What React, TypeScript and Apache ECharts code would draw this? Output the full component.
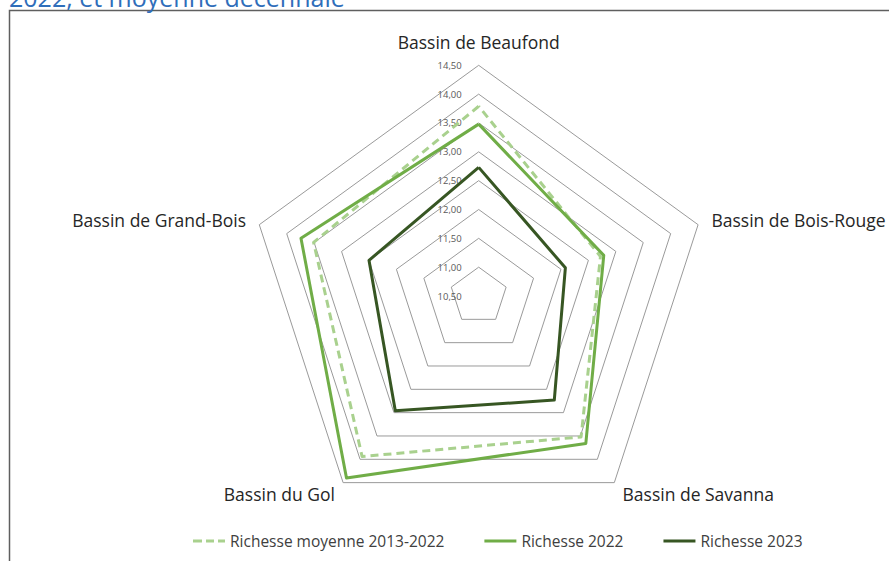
import React, { useEffect, useRef } from "react";
import * as echarts from "echarts";

// Indicators in counter-clockwise order starting at top
const basins = [
  "Bassin de Beaufond",
  "Bassin de Grand-Bois",
  "Bassin du Gol",
  "Bassin de Savanna",
  "Bassin de Bois-Rouge",
];
const seriesNames = ["Richesse moyenne 2013-2022", "Richesse 2022", "Richesse 2023"];
const moyenne = [13.79, 13.51, 13.94, 13.52, 12.72];
const rich2022 = [13.48, 13.74, 14.4, 13.66, 12.78];
const rich2023 = [12.73, 12.5, 12.96, 12.73, 12.08];
const scaleMin = 10.5;
const scaleMax = 14.5;
const titleText = "2022, et moyenne décennale";

const FONT = "'Open Sans', 'Noto Sans', sans-serif";

export default function App() {
  const ref = useRef<HTMLDivElement>(null);
  useEffect(() => {
    if (!ref.current) return;
    const chart = echarts.init(ref.current, null, { renderer: "svg" });
    const colors = ["#A9D18E", "#70AD47", "#375623"];
    const values = [moyenne, rich2022, rich2023];
    chart.setOption({
      animation: false,
      backgroundColor: "#ffffff",
      graphic: [
        {
          type: "rect",
          shape: { x: 9.5, y: 10.5, width: 900, height: 600 },
          style: { fill: "none", stroke: "#5f5f5f", lineWidth: 1.5 },
          silent: true,
        },
        {
          type: "text",
          x: 9,
          y: 9,
          style: {
            text: titleText,
            fill: "#2F6EBA",
            font: `25px ${FONT}`,
            verticalAlign: "bottom",
          },
        },
      ],
      legend: {
        data: [
          { name: seriesNames[0], icon: "path://M0,0h9v3h-9z M13,0h8v3h-8z M25,0h7v3h-7z" },
          { name: seriesNames[1], icon: "path://M0,0h32v3h-32z" },
          { name: seriesNames[2], icon: "path://M0,0h32v3h-32z" },
        ],
        left: 188,
        top: 528,
        itemWidth: 32,
        itemHeight: 3,
        itemGap: 40,
        textStyle: { color: "#404040", fontSize: 15.5, fontFamily: FONT },
      },
      radar: {
        center: [478.7, 296],
        radius: 230.7,
        startAngle: 90,
        shape: "polygon",
        splitNumber: 8,
        nameGap: 14,
        axisName: { color: "#262626", fontSize: 17.5, fontFamily: FONT },
        splitArea: { show: false },
        splitLine: { lineStyle: { color: "#9a9a9a", width: 1 } },
        axisLine: { show: false },
        axisTick: { show: false },
        axisLabel: { show: false },
        indicator: basins.map((b, i) => ({
          name: b,
          min: scaleMin,
          max: scaleMax,
          ...(i === 0
            ? {
                axisLabel: {
                  show: true,
                  color: "#595959",
                  fontSize: 9.5,
                  fontFamily: FONT,
                  margin: 17,
                  showMinLabel: true,
                  formatter: (v: number) => v.toFixed(2).replace(".", ","),
                },
              }
            : {}),
        })),
      },
      series: [
        {
          type: "radar",
          symbol: "none",
          data: seriesNames.map((n, i) => ({
            name: n,
            value: values[i],
            itemStyle: { color: colors[i] },
            lineStyle: {
              color: colors[i],
              width: 3,
              type: i === 0 ? [8, 5] : "solid",
            },
          })),
        },
      ],
    } as any);
    return () => chart.dispose();
  }, []);
  return (
    <div
      ref={ref}
      style={{ position: "absolute", left: 0, top: 0, width: 889, height: 561 }}
    />
  );
}
